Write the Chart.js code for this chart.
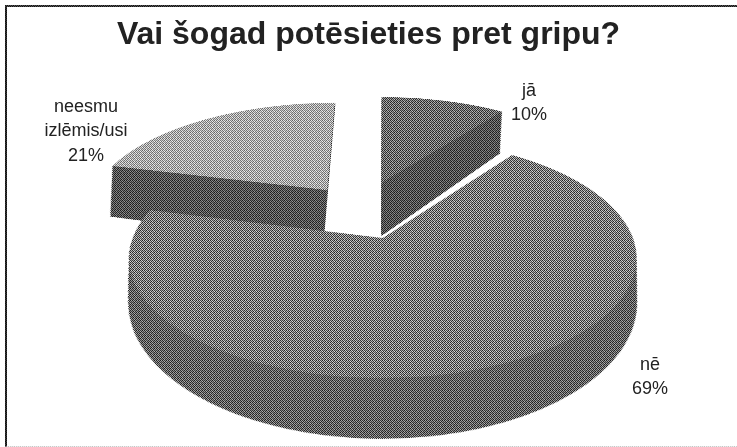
<!DOCTYPE html>
<html>
<head>
<meta charset="utf-8">
<title>Vai šogad potēsieties pret gripu?</title>
<script src="https://cdn.jsdelivr.net/npm/chart.js@4"></script>
<style>
    html, body { margin: 0; padding: 0; background: #fff; overflow: hidden; }
    #frame { position: absolute; left: 0; top: 0; width: 737px; height: 447px; overflow: hidden; background: #fff; }
    #frame canvas { position: absolute; left: 0; top: 0; }
    #border { position: absolute; left: 5px; top: 5px; width: 732px; height: 439px;
              border-left: 2px solid #222; border-top: 2px solid #333; border-bottom: 1px solid #ddd; }
    #grain { position: absolute; left: 0; top: 0; width: 737px; height: 447px; mix-blend-mode: overlay; }
</style>
</head>
<body>
<div id="frame">
    <div id="border"></div>
    <canvas id="pieCanvas" width="800" height="800"></canvas>
    <div id="grain"></div>
    <canvas id="textCanvas" width="737" height="447"></canvas>
</div>
<script>
var chartTitle = "Vai šogad potēsieties pret gripu?";
var categories = ["jā", "nē", "neesmu izlēmis/usi"];
var percentValues = [10, 69, 21];

// 每块的样式 顺序同 categories
var topColors = ["#686868", "#767676", "#a6a6a6"];
var wallColors = ["#505050", "#606060", "#525252"];
var wallDepths = [125, 84, 125]; // 画布坐标下的厚度
var explodes = [70, 67, 60];     // 扇形外移距离
var drawOrder = [2, 0, 1];       // 从后往前画

// 标签位置
var labelLines = [["jā", "10%"], ["nē", "69%"], ["neesmu", "izlēmis/usi", "21%"]];
var labelX = [529, 650, 86];
var labelY = [91, 365, 107];

// 扫描颗粒 (灰度小块，平铺)
var grainTile = [
    [40, 215, 70, 190, 30, 225],
    [200, 60, 235, 45, 205, 85],
    [75, 180, 35, 220, 65, 170],
    [225, 50, 195, 80, 240, 40],
    [55, 210, 90, 175, 50, 200],
    [185, 35, 230, 60, 190, 75]
];

function applyGrain() {
    var tile = document.createElement("canvas");
    tile.width = 6;
    tile.height = 6;
    var tctx = tile.getContext("2d");
    grainTile.forEach(function (row, y) {
        row.forEach(function (v, x) {
            tctx.fillStyle = "rgb(" + v + "," + v + "," + v + ")";
            tctx.fillRect(x, y, 1, 1);
        });
    });
    document.getElementById("grain").style.backgroundImage = "url(" + tile.toDataURL() + ")";
}

// 透视：把画布平面映射到屏幕 (用 matrix3d)
var axisX = 423, axisY = 463, radius = 250, tilt = -0.168, scaleX = 250, scaleY = 116.5;
function applyPerspective(canvas) {
    var wy = tilt / radius;
    var w0 = 1 - wy * axisY;
    var m41 = 383 * w0 - scaleX / radius * axisX;
    var m42 = 238 * w0 - scaleY / radius * axisY;
    var m21 = 383 * wy;
    var m22 = 238 * wy + scaleY / radius;
    canvas.style.transformOrigin = "0 0";
    canvas.style.transform = "matrix3d(" + [
        scaleX / radius, 0, 0, 0,
        m21, m22, 0, wy,
        0, 0, 1, 0,
        m41, m42, 0, w0
    ].join(",") + ")";
}

// 画一块：先叠出侧面，再画顶面
var solidPie = {
    id: "solidPie",
    beforeDatasetDraw: function (chart, args) {
        var ctx = chart.ctx;
        var arcs = args.meta.data;
        drawOrder.forEach(function (i) {
            var arc = arcs[i];
            var mid = (arc.startAngle + arc.endAngle) / 2;
            var shiftX = Math.cos(mid) * explodes[i];
            var shiftY = Math.sin(mid) * explodes[i];
            var sliceAxis = arc.x + shiftX;
            var color = arc.options.backgroundColor;
            for (var d = wallDepths[i]; d >= 0; d -= 1) {
                // 越往下透视越大，这里收窄一点让侧壁在屏幕上保持竖直
                var k = 1 + tilt * d / radius;
                ctx.save();
                ctx.translate(sliceAxis, 0);
                ctx.scale(k, 1);
                ctx.translate(-sliceAxis, d);
                ctx.translate(shiftX, shiftY);
                arc.options.backgroundColor = d === 0 ? color : wallColors[i];
                arc.options.borderColor = arc.options.backgroundColor;
                arc.draw(ctx);
                ctx.restore();
            }
            arc.options.backgroundColor = color;
        });
        return false;
    }
};

// 文字标签
var pieLabels = {
    id: "pieLabels",
    afterDraw: function (chart) {
        var ctx = chart.ctx;
        ctx.save();
        ctx.font = "18px 'Liberation Sans'";
        ctx.fillStyle = "#222";
        ctx.textAlign = "center";
        ctx.textBaseline = "middle";
        labelLines.forEach(function (lines, i) {
            lines.forEach(function (line, j) {
                ctx.fillText(line, labelX[i], labelY[i] + j * 24.5);
            });
        });
        ctx.restore();
    }
};

applyPerspective(document.getElementById("pieCanvas"));
applyGrain();

new Chart(document.getElementById("pieCanvas"), {
    type: "pie",
    data: {
        labels: categories,
        datasets: [{ data: percentValues, backgroundColor: topColors, borderWidth: 0 }]
    },
    options: {
        responsive: false,
        animation: false,
        radius: radius,
        plugins: { legend: { display: false }, tooltip: { enabled: false }, title: { display: false } }
    },
    plugins: [solidPie]
});

new Chart(document.getElementById("textCanvas"), {
    type: "pie",
    data: { labels: [], datasets: [{ data: [] }] },
    options: {
        responsive: false,
        animation: false,
        events: [],
        plugins: {
            legend: { display: false },
            tooltip: { enabled: false },
            title: {
                display: true,
                text: chartTitle,
                color: "#222",
                font: { family: "'Liberation Sans'", size: 32, weight: "bold" },
                padding: { top: 16, bottom: 0 }
            }
        }
    },
    plugins: [pieLabels]
});
</script>
</body>
</html>
